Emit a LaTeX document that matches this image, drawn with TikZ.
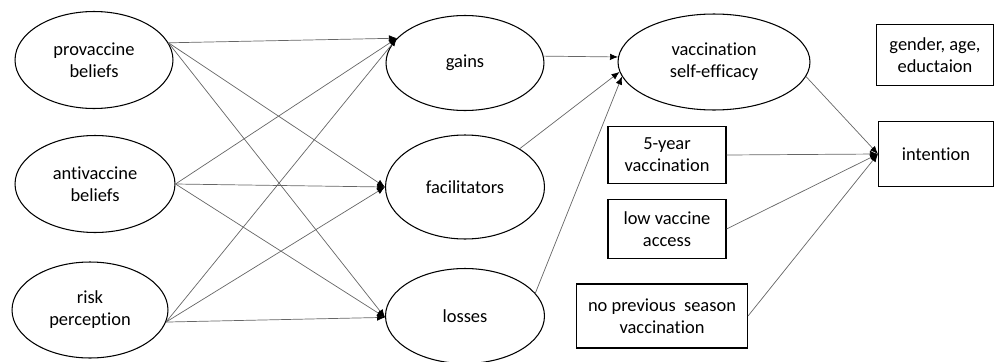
\documentclass[tikz,border=0pt]{standalone}
\usepackage{fontspec}
\setmainfont{Carlito}[Ligatures=NoCommon]
\usetikzlibrary{shapes.geometric,arrows.meta}

\begin{document}
\begin{tikzpicture}[x = 0.02cm, y = -0.02cm,
		every node/.style = {font=\fontsize{10.5}{12.5}\selectfont, align=center, inner sep=0pt},
		latent/.style = {draw, ellipse, line width=0.6pt, minimum width=3.16cm, minimum height=1.94cm},
		observed/.style = {draw, rectangle, line width=0.6pt},
		path/.style = {draw=black!60, line width=0.4pt, -{Latex[length=1.6mm, width=1.3mm, black]}}]
		\useasboundingbox (0,0) rectangle (995,362);
		\node[latent] (prov) at (94,60) {provaccine\\beliefs};
		\node[latent, minimum width=3.2cm] (anti) at (95,184) {antivaccine\\beliefs};
		\node[latent, minimum width=3.12cm, minimum height=1.92cm] (risk) at (90,310) {risk\\perception};
		\node[latent, minimum height=1.9cm] (gains) at (465,63) {gains};
		\node[latent, minimum width=3.18cm, minimum height=2.08cm] (fac) at (465,187) {facilitators};
		\node[latent, minimum width=3.18cm, minimum height=1.9cm] (loss) at (465,316) {losses};
		\node[latent, minimum width=3.84cm, minimum height=1.92cm] (eff) at (714,62) {vaccination\\self-efficacy};
		\node[observed, minimum width=2.36cm, minimum height=1.14cm] (five) at (667,155) {5-year\\vaccination};
		\node[observed, minimum width=2.36cm, minimum height=1.18cm] (low) at (667,229) {low vaccine\\access};
		\node[observed, minimum width=3.42cm, minimum height=1.28cm] (prev) at (662,316) {no previous \ season\\vaccination};
		\node[observed, minimum width=2.34cm, minimum height=1.22cm] (demo) at (935,55) {gender, age,\\eductaion};
		\node[observed, minimum width=2.3cm, minimum height=1.3cm] (int) at (936,154) {intention};
		\foreach \src/\ang in {prov/13, anti/0, risk/-9} {
			\draw[path] (\src.\ang) -- (gains.160);
			\draw[path] (\src.\ang) -- (fac.west);
			\draw[path] (\src.\ang) -- (loss.181);
		}
		\draw[path] (gains.5) -- (eff.177);
		\draw[path] (fac.35) -- (eff.186);
		\draw[path] (loss.18) -- (eff.189);
		\draw[path] (eff.-9) -- (int.west);
		\draw[path] (five.east) -- (int.west);
		\draw[path] (low.east) -- (int.west);
		\draw[path] (prev.east) -- (int.west);
	\end{tikzpicture}
\end{document}
